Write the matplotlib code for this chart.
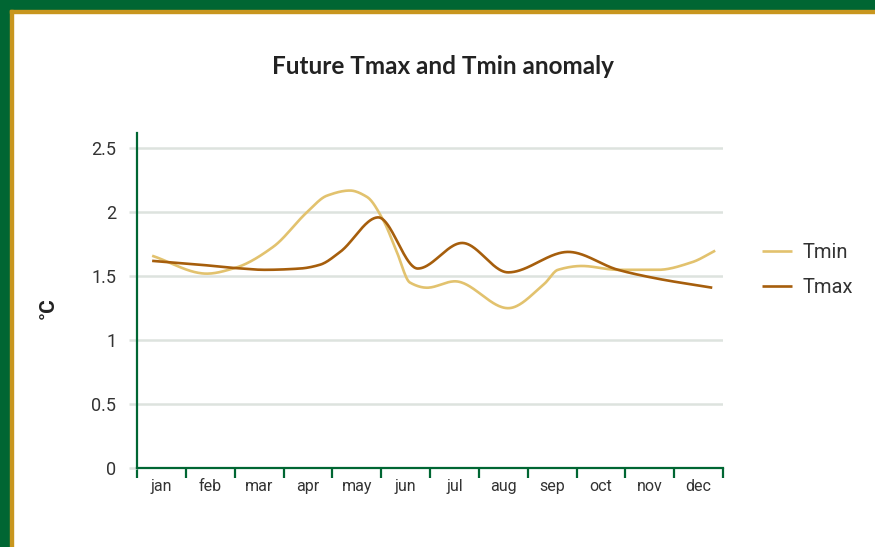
import numpy as np
import matplotlib
matplotlib.use("Agg")
import matplotlib.pyplot as plt
from matplotlib.patches import Rectangle

MONTHS = ["jan", "feb", "mar", "apr", "may", "jun", "jul", "aug", "sep", "oct", "nov", "dec"]

# values, x in month units (jan = 1)
tmin_month = [0.81, 1.93, 2.51, 3.29, 3.98, 4.39, 4.86, 5.21, 5.54, 5.82, 6.09,
              6.44, 7.01, 8.10, 8.84, 9.12, 9.61, 10.35, 11.17, 11.87, 12.34]
tmin_vals = [1.66, 1.52, 1.565, 1.73, 2.0, 2.13, 2.17, 2.12, 1.94, 1.69, 1.45,
             1.41, 1.46, 1.25, 1.44, 1.55, 1.58, 1.55, 1.55, 1.61, 1.70]

tmax_month = [0.81, 1.79, 2.47, 3.12, 3.84, 4.25, 4.66, 5.44, 6.25, 7.16,
              8.10, 9.33, 10.35, 11.17, 12.28]
tmax_vals = [1.62, 1.59, 1.565, 1.55, 1.56, 1.59, 1.69, 1.96, 1.56, 1.76,
             1.53, 1.69, 1.55, 1.48, 1.41]

YTICKS = [0, 0.5, 1, 1.5, 2, 2.5]
YTICK_LABELS = ["0", "0.5", "1", "1.5", "2", "2.5"]

GREEN = "#006633"
GOLD = "#c8961e"
GRID = "#dde3de"
TMIN_COLOR = "#e2c26e"
TMAX_COLOR = "#a65e0c"
TEXT = "#333333"


def smooth(x, y, n=600):
    # monotone cubic (pchip style) so the line looks like a spline chart
    x = np.asarray(x, float)
    y = np.asarray(y, float)
    h = np.diff(x)
    d = np.diff(y) / h
    m = np.zeros_like(y)
    for i in range(1, len(y) - 1):
        if d[i - 1] * d[i] > 0:
            w1 = 2 * h[i] + h[i - 1]
            w2 = h[i] + 2 * h[i - 1]
            m[i] = (w1 + w2) / (w1 / d[i - 1] + w2 / d[i])
    m[0] = d[0]
    m[-1] = d[-1]
    xs = np.linspace(x[0], x[-1], n)
    idx = np.clip(np.searchsorted(x, xs) - 1, 0, len(h) - 1)
    t = (xs - x[idx]) / h[idx]
    h00 = 2 * t**3 - 3 * t**2 + 1
    h10 = t**3 - 2 * t**2 + t
    h01 = -2 * t**3 + 3 * t**2
    h11 = t**3 - t**2
    ys = h00 * y[idx] + h10 * h[idx] * m[idx] + h01 * y[idx + 1] + h11 * h[idx] * m[idx + 1]
    return xs, ys


def main():
    plt.rcParams["font.family"] = ["Roboto", "DejaVu Sans"]
    fig = plt.figure(figsize=(8.75, 5.47), dpi=100)

    # frame: green band + gold line on top and left
    W, H = 875.0, 547.0
    fig.patches.append(Rectangle((0, 1 - 10 / H), 1, 10 / H, transform=fig.transFigure,
                                 color=GREEN, zorder=0))
    fig.patches.append(Rectangle((0, 0), 10 / W, 1, transform=fig.transFigure,
                                 color=GREEN, zorder=0))
    fig.patches.append(Rectangle((10 / W, 1 - 13 / H), 1, 3 / H, transform=fig.transFigure,
                                 color=GOLD, zorder=0))
    fig.patches.append(Rectangle((10 / W, 0), 3 / W, 1 - 10 / H, transform=fig.transFigure,
                                 color=GOLD, zorder=0))

    ax = fig.add_axes([137 / W, 79 / H, 586 / W, 335 / H])

    x1, y1 = smooth(tmin_month, tmin_vals)
    x2, y2 = smooth(tmax_month, tmax_vals)
    ax.plot(x1, y1, color=TMIN_COLOR, lw=1.9, label="Tmin", solid_capstyle="butt", zorder=3)
    ax.plot(x2, y2, color=TMAX_COLOR, lw=1.9, label="Tmax", solid_capstyle="butt", zorder=4)

    ax.set_xlim(0.5, 12.5)
    ax.set_ylim(0, 2.62)

    for v in YTICKS[1:]:
        ax.axhline(v, color=GRID, lw=1.8, zorder=1)

    for s in ["top", "right"]:
        ax.spines[s].set_visible(False)
    ax.spines["left"].set_color(GREEN)
    ax.spines["left"].set_linewidth(1.6)
    ax.spines["bottom"].set_color(GREEN)
    ax.spines["bottom"].set_linewidth(1.6)
    ax.spines["left"].set_zorder(5)
    ax.spines["bottom"].set_zorder(5)

    ax.set_yticks(YTICKS)
    ax.set_yticklabels(YTICK_LABELS)
    ax.tick_params(axis="y", length=6, width=1.8, color=GRID, pad=9,
                   labelsize=13, labelcolor=TEXT)
    ax.yaxis.get_major_ticks()[0].tick1line.set_color(GREEN)

    ax.set_xticks(np.arange(0.5, 13.0, 1.0))
    ax.set_xticklabels([])
    ax.set_xticks(np.arange(1, 13), minor=True)
    ax.set_xticklabels(MONTHS, minor=True)
    ax.tick_params(axis="x", which="major", length=7, width=1.6, color=GREEN, direction="out")
    ax.tick_params(axis="x", which="minor", length=0, pad=8, labelsize=11.5, labelcolor=TEXT)

    fig.text(443 / W, 1 - 66 / H, "Future Tmax and Tmin anomaly", ha="center", va="center",
             fontsize=17.5, fontweight="bold", color="#222222", family=["Lato", "DejaVu Sans"])
    fig.text(48 / W, 1 - 308 / H, "°C", rotation=90, ha="center", va="center",
             fontsize=15, fontweight="bold", color="#222222")

    leg = ax.legend(loc="center left", bbox_to_anchor=(744 / W, 1 - 270 / H),
                    bbox_transform=fig.transFigure, frameon=False, fontsize=14.5,
                    handlelength=1.5, handletextpad=0.5, labelspacing=0.8)
    for t in leg.get_texts():
        t.set_color(TEXT)

    fig.savefig("out.png", dpi=100)


if __name__ == "__main__":
    main()
